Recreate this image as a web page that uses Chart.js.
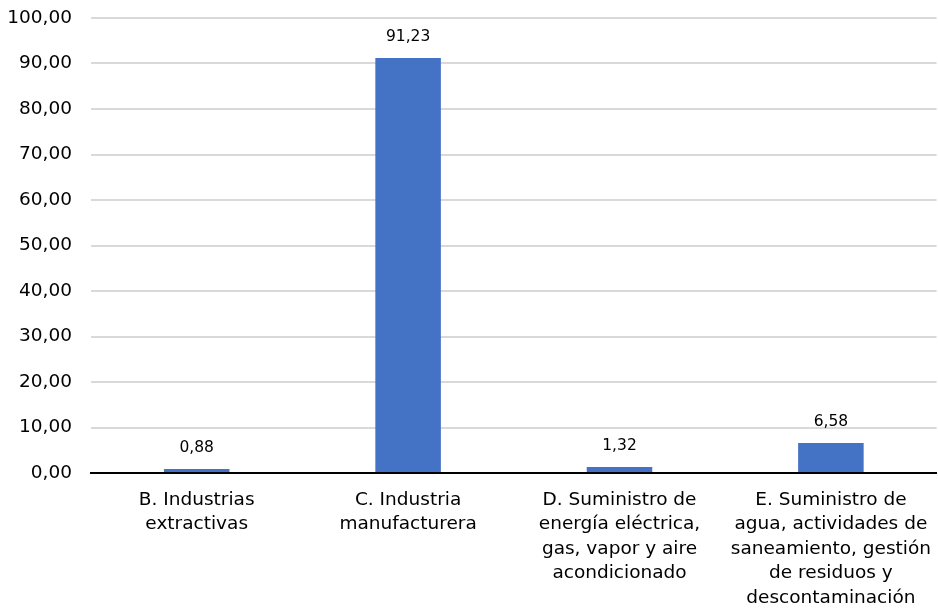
<!DOCTYPE html>
<html>
<head>
<meta charset="utf-8">
<script src="https://cdn.jsdelivr.net/npm/chart.js@4/dist/chart.umd.min.js"></script>
<style>
  html, body { margin: 0; padding: 0; background: #fff; }
  #wrap { width: 938px; height: 610px; }
</style>
</head>
<body>
<div id="wrap"><canvas id="c"></canvas></div>
<script>
// Ramas de actividad (etiquetas partidas en líneas como en el original)
const categorias = [
  ["B. Industrias", "extractivas"],
  ["C. Industria", "manufacturera"],
  ["D. Suministro de", "energía eléctrica,", "gas, vapor y aire", "acondicionado"],
  ["E. Suministro de", "agua, actividades de", "saneamiento, gestión", "de residuos y", "descontaminación"],
];
const valores = [0.88, 91.23, 1.32, 6.58];
const ejeMin = 0, ejeMax = 100, ejePaso = 10;

const FUENTE = "Tahoma, 'DejaVu Sans', Verdana, sans-serif";
const fmt = (v) => v.toFixed(2).replace(".", ",");

// etiquetas de valor encima de cada barra
const etiquetasBarras = {
  id: "etiquetasBarras",
  afterDatasetsDraw(chart) {
    const ctx = chart.ctx;
    const meta = chart.getDatasetMeta(0);
    ctx.save();
    ctx.font = "15.5px " + FUENTE;
    ctx.fillStyle = "#000";
    ctx.textAlign = "center";
    ctx.textBaseline = "middle";
    meta.data.forEach((bar, i) => {
      ctx.fillText(fmt(valores[i]), bar.x, bar.y - 21);
    });
    ctx.restore();
  },
};

new Chart(document.getElementById("c").getContext("2d"), {
  type: "bar",
  data: {
    labels: categorias,
    datasets: [{
      data: valores,
      backgroundColor: "#4472C4",
      borderWidth: 0,
      categoryPercentage: 1,
      barPercentage: 0.31,
    }],
  },
  options: {
    responsive: true,
    maintainAspectRatio: false,
    animation: false,
    plugins: { legend: { display: false }, tooltip: { enabled: false } },
    scales: {
      x: {
        grid: { display: false },
        border: { color: "#000", width: 2 },
        afterFit: (s) => { s.height = 137; },
        ticks: {
          color: "#000",
          maxRotation: 0,
          autoSkip: false,
          font: { family: FUENTE, size: 18.5, lineHeight: 1.32 },
          padding: 7,
        },
      },
      y: {
        min: ejeMin,
        max: ejeMax,
        grid: { color: "#d9d9d9", lineWidth: 2, drawTicks: false },
        border: { display: false },
        afterFit: (s) => { s.width = 91; s.paddingTop = 18; },
        ticks: {
          stepSize: ejePaso,
          color: "#000",
          padding: 19,
          font: { family: FUENTE, size: 18.5 },
          callback: (v) => fmt(v),
        },
      },
    },
  },
  plugins: [etiquetasBarras],
});
</script>
</body>
</html>
